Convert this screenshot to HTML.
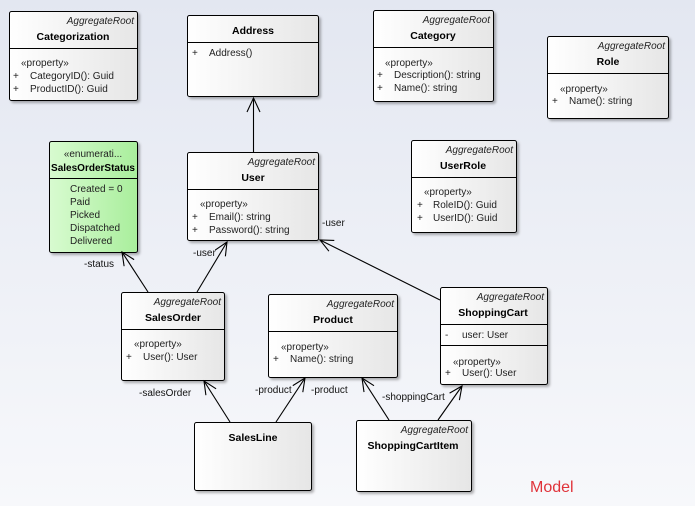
<!DOCTYPE html>
<html><head><meta charset="utf-8"><style>
html,body{margin:0;padding:0;width:695px;height:506px;overflow:hidden}
svg{display:block}
text{font-family:"Liberation Sans",sans-serif;font-size:10px;fill:#222}
.st{font-style:italic}
.nm{font-weight:bold;font-size:10.5px;fill:#000}
.lb{fill:#111}
</style></head><body>
<svg width="695" height="506" viewBox="0 0 695 506">
<defs>
<linearGradient id="bg" x1="0" y1="0" x2="0" y2="1"><stop offset="0" stop-color="#e3e7f1"/><stop offset="1" stop-color="#f7f8fb"/></linearGradient>
<linearGradient id="bx" x1="0" y1="0" x2="1" y2="0"><stop offset="0" stop-color="#ffffff"/><stop offset="1" stop-color="#e6e6e6"/></linearGradient>
<linearGradient id="gr" x1="0" y1="0" x2="1" y2="0"><stop offset="0" stop-color="#d8fbd0"/><stop offset="1" stop-color="#a9ee9c"/></linearGradient>
<filter id="sh" x="-10%" y="-10%" width="130%" height="130%"><feDropShadow dx="2" dy="2" stdDeviation="1.2" flood-color="#000" flood-opacity="0.3"/></filter>
</defs>
<rect width="695" height="506" fill="url(#bg)"/>
<g stroke="#000" stroke-width="1" filter="url(#sh)">
<rect x="9.5" y="11.5" width="128" height="89" rx="2" fill="url(#bx)"/>
<rect x="187.5" y="15.5" width="131" height="81" rx="2" fill="url(#bx)"/>
<rect x="373.5" y="10.5" width="120" height="91" rx="2" fill="url(#bx)"/>
<rect x="547.5" y="36.5" width="121" height="82" rx="2" fill="url(#bx)"/>
<rect x="49.5" y="141.5" width="88" height="111" rx="2" fill="url(#gr)"/>
<rect x="187.5" y="152.5" width="131" height="88" rx="2" fill="url(#bx)"/>
<rect x="411.5" y="140.5" width="105" height="92" rx="2" fill="url(#bx)"/>
<rect x="121.5" y="292.5" width="103" height="88" rx="2" fill="url(#bx)"/>
<rect x="268.5" y="294.5" width="129" height="83" rx="2" fill="url(#bx)"/>
<rect x="440.5" y="287.5" width="107" height="97" rx="2" fill="url(#bx)"/>
<rect x="194.5" y="422.5" width="117" height="68" rx="2" fill="url(#bx)"/>
<rect x="356.5" y="420.5" width="115" height="71" rx="2" fill="url(#bx)"/>
</g>
<g stroke="#000" stroke-width="1">
<line x1="9" y1="48.5" x2="137" y2="48.5"/>
<line x1="187" y1="42.5" x2="318" y2="42.5"/>
<line x1="373" y1="47.5" x2="493" y2="47.5"/>
<line x1="547" y1="73.5" x2="668" y2="73.5"/>
<line x1="49" y1="178.5" x2="137" y2="178.5"/>
<line x1="187" y1="189.5" x2="318" y2="189.5"/>
<line x1="411" y1="177.5" x2="516" y2="177.5"/>
<line x1="121" y1="329.5" x2="224" y2="329.5"/>
<line x1="268" y1="331.5" x2="397" y2="331.5"/>
<line x1="440" y1="324.5" x2="547" y2="324.5"/>
<line x1="440" y1="345.5" x2="547" y2="345.5"/>
</g>
<g stroke="#000" stroke-width="1.1" fill="none">
<line x1="253.5" y1="152" x2="253.5" y2="98"/><polyline points="247,112 253.5,98 260,112"/>
<line x1="148" y1="292" x2="122" y2="252"/><polyline points="134.1,259.6 122,252 124.1,266.2"/>
<line x1="197" y1="292" x2="227" y2="242"/><polyline points="225.4,256.3 227,242 215.2,250.1"/>
<line x1="440" y1="300" x2="320" y2="240"/><polyline points="334.3,240.4 320,240 328.9,251.2"/>
<line x1="230" y1="422" x2="204" y2="381"/><polyline points="216.1,388.8 204,381 205.9,395.2"/>
<line x1="276" y1="422" x2="305" y2="378"/><polyline points="302.8,392.2 305,378 292.8,385.6"/>
<line x1="389" y1="420" x2="362" y2="378"/><polyline points="374,385.7 362,378 364,392.1"/>
<line x1="438" y1="420" x2="462" y2="386"/><polyline points="459.4,400.1 462,386 449.6,393.1"/>
</g>
<text x="134" y="24" text-anchor="end" class="st">AggregateRoot</text>
<text x="73" y="40" text-anchor="middle" class="nm">Categorization</text>
<text x="21" y="66">«property»</text>
<text x="13" y="79">+</text><text x="30" y="79">CategoryID(): Guid</text>
<text x="13" y="92">+</text><text x="30" y="92">ProductID(): Guid</text>
<text x="253" y="34" text-anchor="middle" class="nm">Address</text>
<text x="192" y="56">+</text><text x="209" y="56">Address()</text>
<text x="490" y="23" text-anchor="end" class="st">AggregateRoot</text>
<text x="433" y="39" text-anchor="middle" class="nm">Category</text>
<text x="385" y="66">«property»</text>
<text x="377" y="78">+</text><text x="394" y="78">Description(): string</text>
<text x="377" y="91">+</text><text x="394" y="91">Name(): string</text>
<text x="665" y="49" text-anchor="end" class="st">AggregateRoot</text>
<text x="608" y="65" text-anchor="middle" class="nm">Role</text>
<text x="560" y="92">«property»</text>
<text x="552" y="104">+</text><text x="569" y="104">Name(): string</text>
<text x="93" y="157" text-anchor="middle" style="fill:#222">«enumerati...</text>
<text x="93" y="171" text-anchor="middle" class="nm" style="font-size:10px">SalesOrderStatus</text>
<text x="70" y="192">Created = 0</text>
<text x="70" y="205">Paid</text>
<text x="70" y="218">Picked</text>
<text x="70" y="231">Dispatched</text>
<text x="70" y="244">Delivered</text>
<text x="315" y="165" text-anchor="end" class="st">AggregateRoot</text>
<text x="253" y="181" text-anchor="middle" class="nm">User</text>
<text x="200" y="207">«property»</text>
<text x="192" y="220">+</text><text x="209" y="220">Email(): string</text>
<text x="192" y="233">+</text><text x="209" y="233">Password(): string</text>
<text x="513" y="153" text-anchor="end" class="st">AggregateRoot</text>
<text x="463" y="169" text-anchor="middle" class="nm">UserRole</text>
<text x="424" y="195">«property»</text>
<text x="417" y="208">+</text><text x="433" y="208">RoleID(): Guid</text>
<text x="417" y="221">+</text><text x="433" y="221">UserID(): Guid</text>
<text x="221" y="305" text-anchor="end" class="st">AggregateRoot</text>
<text x="173" y="321" text-anchor="middle" class="nm">SalesOrder</text>
<text x="134" y="347">«property»</text>
<text x="126" y="360">+</text><text x="143" y="360">User(): User</text>
<text x="394" y="307" text-anchor="end" class="st">AggregateRoot</text>
<text x="333" y="323" text-anchor="middle" class="nm">Product</text>
<text x="281" y="350">«property»</text>
<text x="273" y="362">+</text><text x="290" y="362">Name(): string</text>
<text x="544" y="300" text-anchor="end" class="st">AggregateRoot</text>
<text x="493" y="316" text-anchor="middle" class="nm">ShoppingCart</text>
<text x="445" y="338">-</text><text x="462" y="338">user: User</text>
<text x="453" y="365">«property»</text>
<text x="445" y="376">+</text><text x="462" y="376">User(): User</text>
<text x="253" y="441" text-anchor="middle" class="nm">SalesLine</text>
<text x="468" y="433" text-anchor="end" class="st">AggregateRoot</text>
<text x="413" y="449" text-anchor="middle" class="nm">ShoppingCartItem</text>
<text x="84" y="267" class="lb">-status</text>
<text x="193" y="256" class="lb">-user</text>
<text x="322" y="226" class="lb">-user</text>
<text x="139" y="396" class="lb">-salesOrder</text>
<text x="255" y="393" class="lb">-product</text>
<text x="311" y="393" class="lb">-product</text>
<text x="382" y="400" class="lb">-shoppingCart</text>
<text x="530" y="492" style="font-size:16px;fill:#e0333a">Model</text>
</svg>
</body></html>
